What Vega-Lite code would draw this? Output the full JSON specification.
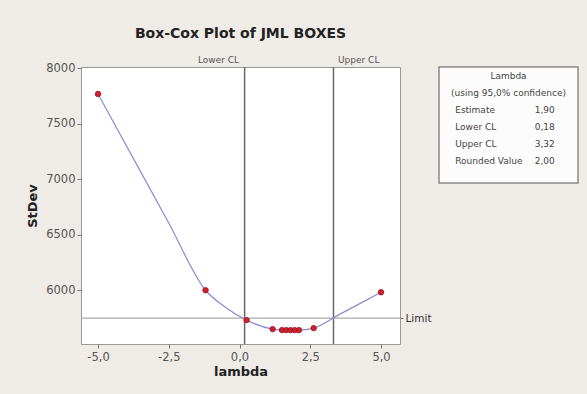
{
  "$schema": "https://vega.github.io/schema/vega-lite/v6.json",
  "background": "#efebe6",
  "padding": {"left": 26, "top": 26, "right": 8, "bottom": 15},
  "config": {"font": "DejaVu Sans", "view": {"stroke": null}},
  "spacing": 39,
  "bounds": "flush",
  "hconcat": [
    {
      "width": 319,
      "height": 277,
      "title": {"text": "Box-Cox Plot of JML BOXES", "fontSize": 14, "fontWeight": "bold", "color": "#222", "offset": 14},
      "view": {"fill": "white", "stroke": "#999", "strokeWidth": 1},
      "resolve": {"axis": {"x": "independent", "y": "independent"}},
      "layer": [
        {
          "data": {"values": [{"name": "Lower CL", "lambda": 0.18}, {"name": "Upper CL", "lambda": 3.32}]},
          "mark": {"type": "rule", "color": "#6a6a6a", "strokeWidth": 1.5},
          "encoding": {
            "x": {
              "field": "lambda", "type": "quantitative",
              "scale": {"domain": [-5.6, 5.67], "nice": false, "zero": false},
              "axis": {
                "orient": "top", "values": [0.18, 3.32], "title": null, "ticks": false, "domain": false, "grid": false,
                "labelExpr": "datum.value < 1 ? 'Lower CL' : 'Upper CL'",
                "labelFontSize": 9, "labelColor": "#555", "labelPadding": 3,
                "labelAlign": {"condition": {"test": "datum.value < 1", "value": "right"}, "value": "left"},
                "labelOffset": {"condition": {"test": "datum.value < 1", "value": -6}, "value": 4}
              }
            }
          }
        },
        {
          "data": {"values": [{"name": "Limit", "stdev": 5749}]},
          "mark": {"type": "rule", "color": "#aaaaaa", "strokeWidth": 1.2},
          "encoding": {
            "y": {
              "field": "stdev", "type": "quantitative",
              "scale": {"domain": [5516, 8010], "nice": false, "zero": false},
              "axis": {
                "orient": "right", "values": [5749], "title": null, "ticks": true, "tickSize": 3, "tickColor": "#777",
                "domain": false, "grid": false, "labelExpr": "'Limit'", "labelFontSize": 10.5, "labelColor": "#333", "labelPadding": 2
              }
            }
          }
        },
        {
          "data": {"name": "curve", "values": [
            {"lambda": -5, "stdev": 7767, "marker": true},
            {"lambda": -3.5, "stdev": 7070, "marker": false},
            {"lambda": -2.5, "stdev": 6605, "marker": false},
            {"lambda": -1.2, "stdev": 6000, "marker": true},
            {"lambda": -0.5, "stdev": 5847, "marker": false},
            {"lambda": 0.25, "stdev": 5731, "marker": true},
            {"lambda": 1.17, "stdev": 5650, "marker": true},
            {"lambda": 1.5, "stdev": 5641, "marker": true},
            {"lambda": 1.65, "stdev": 5641, "marker": true},
            {"lambda": 1.8, "stdev": 5641, "marker": true},
            {"lambda": 1.95, "stdev": 5641, "marker": true},
            {"lambda": 2.1, "stdev": 5641, "marker": true},
            {"lambda": 2.62, "stdev": 5659, "marker": true},
            {"lambda": 3.5, "stdev": 5778, "marker": false},
            {"lambda": 4.2, "stdev": 5873, "marker": false},
            {"lambda": 5, "stdev": 5982, "marker": true}
          ]},
          "mark": {"type": "line", "color": "#8a8ad8", "strokeWidth": 1.2, "interpolate": "monotone"},
          "encoding": {
            "x": {
              "field": "lambda", "type": "quantitative",
              "scale": {"domain": [-5.6, 5.67], "nice": false, "zero": false},
              "axis": {
                "values": [-5, -2.5, 0, 2.5, 5], "title": "lambda", "grid": false, "domain": false,
                "labelExpr": "replace(replace(format(datum.value, '.1f'), '.', ','), '\u2212', '-')",
                "labelFontSize": 11.5, "labelColor": "#555", "tickColor": "#777", "tickSize": 4, "labelPadding": 3,
                "titleFontSize": 13, "titleFontWeight": "bold", "titleColor": "#222", "titlePadding": 3
              }
            },
            "y": {
              "field": "stdev", "type": "quantitative",
              "scale": {"domain": [5516, 8010], "nice": false, "zero": false},
              "axis": {
                "values": [6000, 6500, 7000, 7500, 8000], "format": "d", "title": "StDev", "grid": false, "domain": false,
                "labelFontSize": 11.5, "labelColor": "#555", "tickColor": "#777", "tickSize": 4, "labelPadding": 2,
                "titleFontSize": 13, "titleFontWeight": "bold", "titleColor": "#222", "titlePadding": 6
              }
            }
          }
        },
        {
          "data": {"name": "curve"},
          "transform": [{"filter": "datum.marker"}],
          "mark": {"type": "circle", "color": "#d11f2c", "size": 30, "opacity": 1, "stroke": "#9a1020", "strokeWidth": 0.8},
          "encoding": {
            "x": {"field": "lambda", "type": "quantitative", "scale": {"domain": [-5.6, 5.67], "nice": false, "zero": false}, "axis": null},
            "y": {"field": "stdev", "type": "quantitative", "scale": {"domain": [5516, 8010], "nice": false, "zero": false}, "axis": null}
          }
        }
      ]
    },
    {
      "width": 139,
      "height": 116,
      "view": {"fill": "#fcfcfc", "stroke": "#8a8a8a", "strokeWidth": 1.5},
      "data": {"values": [
        {"row": 1, "kind": "head", "label": "Lambda", "value": ""},
        {"row": 2, "kind": "head", "label": "(using 95,0% confidence)", "value": ""},
        {"row": 3, "kind": "item", "label": "Estimate", "value": "1,90"},
        {"row": 4, "kind": "item", "label": "Lower CL", "value": "0,18"},
        {"row": 5, "kind": "item", "label": "Upper CL", "value": "3,32"},
        {"row": 6, "kind": "item", "label": "Rounded Value", "value": "2,00"}
      ]},
      "encoding": {
        "y": {"field": "row", "type": "quantitative", "axis": null, "scale": {"domain": [0.5, 7.3], "reverse": true, "nice": false, "zero": false}}
      },
      "layer": [
        {
          "transform": [{"filter": "datum.kind == 'head'"}],
          "mark": {"type": "text", "fontSize": 9, "color": "#444", "align": "center", "baseline": "middle"},
          "encoding": {"text": {"field": "label"}}
        },
        {
          "transform": [{"filter": "datum.kind == 'item'"}],
          "mark": {"type": "text", "fontSize": 9, "color": "#444", "align": "left", "baseline": "middle"},
          "encoding": {
            "x": {"datum": "L", "type": "ordinal", "axis": null, "scale": {"type": "point", "domain": ["L", "R"], "padding": 0.152}},
            "text": {"field": "label"}
          }
        },
        {
          "transform": [{"filter": "datum.kind == 'item'"}],
          "mark": {"type": "text", "fontSize": 9, "color": "#444", "align": "right", "baseline": "middle", "dx": -7},
          "encoding": {
            "x": {"datum": "R", "type": "ordinal", "axis": null, "scale": {"type": "point", "domain": ["L", "R"], "padding": 0.152}},
            "text": {"field": "value"}
          }
        }
      ]
    }
  ]
}
